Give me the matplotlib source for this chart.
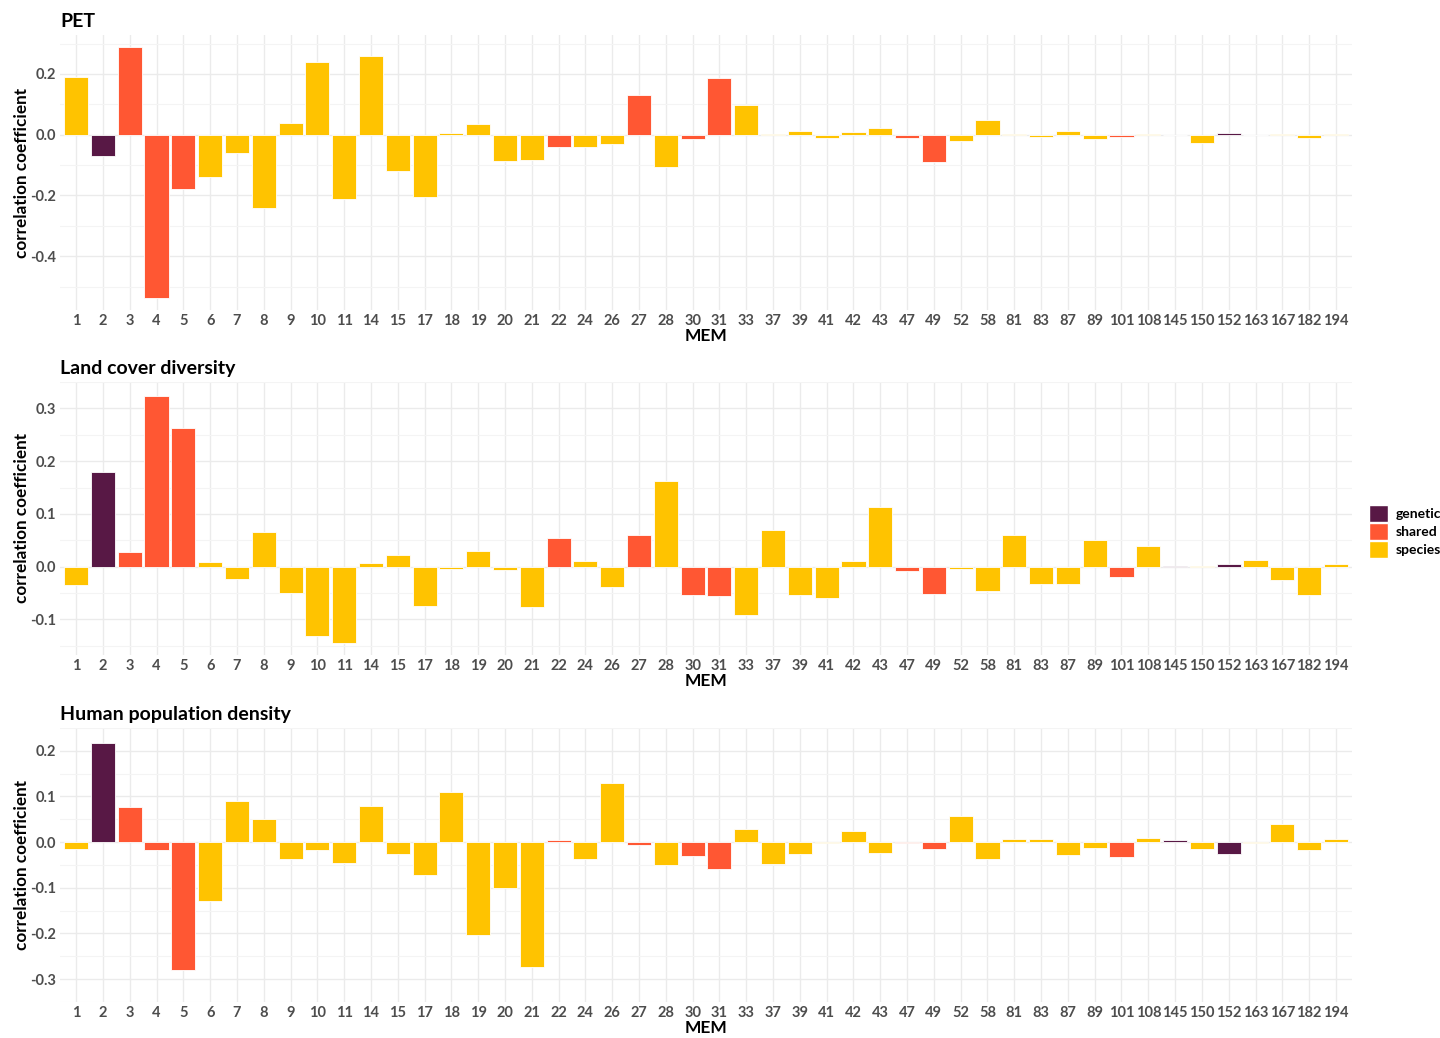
import matplotlib
matplotlib.use("Agg")
import matplotlib.pyplot as plt
from matplotlib.patches import Patch
import numpy as np

plt.rcParams.update({
    "font.family": ["Lato", "DejaVu Sans"],
    "figure.facecolor": "white",
})

# MEM labels (discrete x axis) and the group each MEM belongs to
mem = ["1", "2", "3", "4", "5", "6", "7", "8", "9", "10", "11", "14", "15", "17",
       "18", "19", "20", "21", "22", "24", "26", "27", "28", "30", "31", "33", "37",
       "39", "41", "42", "43", "47", "49", "52", "58", "81", "83", "87", "89", "101",
       "108", "145", "150", "152", "163", "167", "182", "194"]

genetic_mems = ["2", "145", "152"]
shared_mems = ["3", "4", "5", "22", "27", "30", "31", "47", "49", "101"]

pet = [0.191, -0.069, 0.287, -0.536, -0.178, -0.139, -0.059, -0.242, 0.039, 0.239,
       -0.212, 0.260, -0.118, -0.204, 0.004, 0.035, -0.087, -0.082, -0.039, -0.041,
       -0.030, 0.129, -0.105, -0.015, 0.187, 0.098, 0.001, 0.011, -0.011, 0.010,
       0.022, -0.012, -0.091, -0.022, 0.047, 0.001, -0.008, 0.011, -0.015, -0.009,
       0.001, -0.001, -0.026, 0.005, 0.0, 0.001, -0.011, 0.001]

land_cover = [-0.034, 0.180, 0.027, 0.323, 0.262, 0.009, -0.024, 0.066, -0.050, -0.132,
              -0.144, 0.007, 0.022, -0.075, -0.004, 0.029, -0.007, -0.077, 0.054, 0.011,
              -0.038, 0.060, 0.162, -0.054, -0.055, -0.091, 0.070, -0.054, -0.060, 0.011,
              0.113, -0.009, -0.051, -0.004, -0.047, 0.060, -0.032, -0.032, 0.050, -0.020,
              0.040, 0.002, 0.002, 0.006, 0.013, -0.026, -0.053, 0.005]

human_pop = [-0.016, 0.216, 0.077, -0.017, -0.279, -0.129, 0.090, 0.050, -0.036, -0.018,
             -0.046, 0.079, -0.025, -0.073, 0.110, -0.204, -0.100, -0.274, 0.004, -0.036,
             0.130, -0.007, -0.050, -0.031, -0.058, 0.028, -0.048, -0.027, -0.003, 0.024,
             -0.023, -0.002, -0.015, 0.058, -0.036, 0.006, 0.006, -0.029, -0.013, -0.032,
             0.010, 0.004, -0.014, -0.025, -0.002, 0.039, -0.017, 0.006]

panels = [("PET", pet, [-0.4, -0.2, 0.0, 0.2], 0.2),
          ("Land cover diversity", land_cover, [-0.1, 0.0, 0.1, 0.2, 0.3], 0.1),
          ("Human population density", human_pop, [-0.3, -0.2, -0.1, 0.0, 0.1, 0.2], 0.1)]

group_colors = {"genetic": "#581845", "shared": "#FF5733", "species": "#FFC300"}


def group_of(m):
    if m in genetic_mems:
        return "genetic"
    if m in shared_mems:
        return "shared"
    return "species"


colors = [group_colors[group_of(m)] for m in mem]

fig = plt.figure(figsize=(14.4, 10.38), dpi=100)
# axes boxes [left, bottom, width, height] in figure fraction
boxes = [[0.0417, 0.7013, 0.8972, 0.265],
         [0.0417, 0.369, 0.8972, 0.263],
         [0.0417, 0.0347, 0.8972, 0.264]]

grid_major = "#ebebeb"
grid_minor = "#f4f4f4"

for (title, vals, ticks, step), box in zip(panels, boxes):
    ax = fig.add_axes(box)
    x = np.arange(len(mem))
    ax.bar(x, vals, width=0.9, color=colors, edgecolor="white", linewidth=0.6, zorder=3)

    lo, hi = min(vals), max(vals)
    pad = (hi - lo) * 0.05
    ax.set_ylim(lo - pad, hi + pad)
    ax.set_xlim(-0.6, len(mem) - 0.4)

    ax.set_yticks(ticks)
    ax.set_yticklabels([f"{t:.1f}" for t in ticks])
    minor = [t + step / 2 for t in [ticks[0] - step] + ticks]
    ax.set_yticks(minor, minor=True)
    ax.set_xticks(x)
    ax.set_xticklabels(mem)

    ax.grid(True, which="major", color=grid_major, linewidth=1.0, zorder=0)
    ax.grid(True, which="minor", axis="y", color=grid_minor, linewidth=0.8, zorder=0)
    ax.set_axisbelow(True)
    ax.tick_params(which="both", length=0, labelsize=10.5, labelcolor="#4d4d4d", pad=3)
    for lab in ax.get_xticklabels() + ax.get_yticklabels():
        lab.set_fontweight("bold")
    for s in ax.spines.values():
        s.set_visible(False)

    ax.set_ylabel("correlation coefficient", fontsize=12.3, fontweight="bold", labelpad=0)
    ax.set_xlabel("MEM", fontsize=12.5, fontweight="bold", labelpad=0)
    ax.set_title(title, loc="left", fontsize=14, fontweight="bold", pad=6)

handles = [Patch(facecolor=c, edgecolor="white", label=g) for g, c in group_colors.items()]
leg = fig.legend(handles=handles, loc="center left", bbox_to_anchor=(0.9507, 0.488),
                 frameon=False, handlelength=1.4, handleheight=1.55, handletextpad=0.55,
                 labelspacing=0.05, borderaxespad=0, borderpad=0,
                 prop={"weight": "bold", "size": 10})

fig.savefig("out.png", dpi=100)
plt.close(fig)
